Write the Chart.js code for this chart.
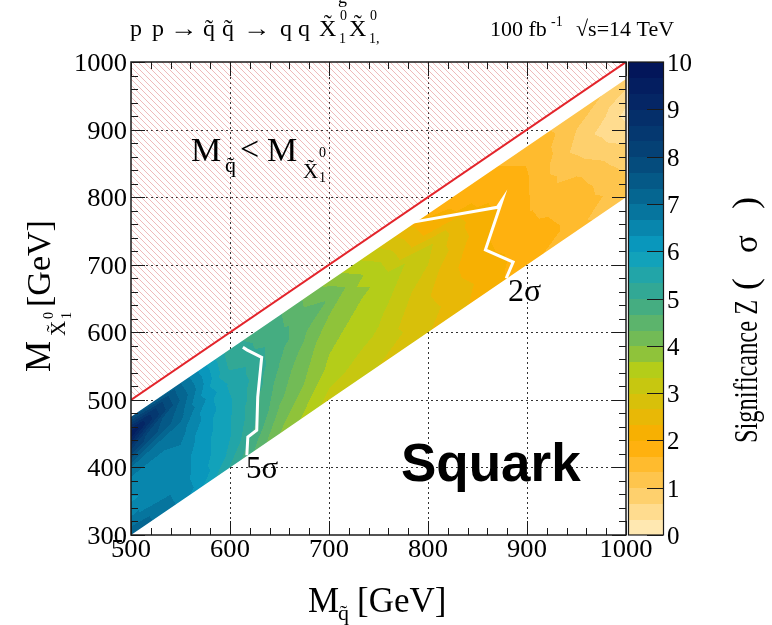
<!DOCTYPE html>
<html>
<head>
<meta charset="utf-8">
<script src="https://cdn.jsdelivr.net/npm/chart.js@4.4.0/dist/chart.umd.min.js"></script>
<style>
  html, body { margin: 0; padding: 0; background: #ffffff; }
  #wrap { width: 772px; height: 625px; }
</style>
</head>
<body>
<div id="wrap"><canvas id="c" width="772" height="625"></canvas></div>
<script>
// ---- grid of the scan: squark mass and mass splitting (M_squark - M_neutralino) ----
const squarkMass = [500, 550, 600, 650, 700, 750, 800, 850, 900, 950, 1000];
const massSplit  = [25, 50, 75, 100, 125, 150, 175, 200];

// significance Z (sigma) along squarkMass, one array per mass splitting
const zSplit25  = [7.6, 7.0, 5.1, 4.7, 3.9, 3.0, 1.95, 1.75, 1.55, 1.1, 0.9];
const zSplit50  = [9.7, 7.3, 5.25, 4.75, 4.3, 3.4, 2.2, 1.85, 1.65, 1.0, 0.5];
const zSplit75  = [8.3, 7.1, 5.6, 4.75, 4.0, 3.6, 3.1, 2.1, 1.7, 0.9, 0.25];
const zSplit100 = [7.0, 6.8, 5.7, 4.65, 3.8, 3.5, 3.0, 2.2, 1.7, 1.1, 0.4];
const zSplit125 = [6.4, 6.6, 5.7, 4.5, 3.7, 3.4, 2.8, 2.1, 1.7, 1.4, 0.7];
const zSplit150 = [6.3, 6.5, 5.7, 4.4, 3.6, 3.3, 2.7, 2.15, 1.75, 1.55, 0.9];
const zSplit175 = [6.7, 6.5, 5.6, 4.2, 3.4, 3.2, 2.8, 2.3, 1.8, 1.6, 1.1];
const zSplit200 = [7.3, 6.6, 5.3, 4.0, 3.2, 3.0, 2.7, 2.25, 1.8, 1.4, 1.2];
const zGrid = [zSplit25, zSplit50, zSplit75, zSplit100, zSplit125, zSplit150, zSplit175, zSplit200];

// iso-significance curves [M_squark, M_neutralino]
const contour2sigma = [[785, 763], [870, 785], [875, 796], [858, 722], [886, 704], [879, 680]];
const contour5sigma = [[613, 578], [617, 574], [632, 563], [628, 504], [627, 455], [618, 445], [617, 418]];

// kinematic limit M_squark = M_neutralino
const kinematicLimit = [[500, 500], [1000, 1000]];

// axis ticks
const xTicks = [500, 600, 700, 800, 900, 1000];
const yTicks = [300, 400, 500, 600, 700, 800, 900, 1000];
const zTicks = [0, 1, 2, 3, 4, 5, 6, 7, 8, 9, 10];
const zLevels = 30;

// ---- colour palette for the significance ----
const paletteStops = [
  [0, [255, 238, 194]], [1, [254, 202, 92]], [2, [255, 172, 0]], [3, [208, 196, 12]],
  [3.5, [180, 205, 25]], [4, [125, 190, 75]], [5, [58, 170, 140]], [6, [10, 160, 195]],
  [7, [5, 108, 150]], [8, [5, 70, 120]], [9, [5, 42, 103]], [10, [3, 18, 88]]
];
function paletteAt(v) {
  for (let i = 1; i < paletteStops.length; i++) {
    const [v1, c1] = paletteStops[i];
    const [v0, c0] = paletteStops[i - 1];
    if (v <= v1) {
      const t = (v - v0) / (v1 - v0);
      return c0.map((c, k) => Math.round(c + t * (c1[k] - c)));
    }
  }
  return paletteStops[paletteStops.length - 1][1];
}
const zMax = zTicks[zTicks.length - 1];
const levelColors = Array.from({ length: zLevels }, (_, k) => paletteAt((k + 0.5) * zMax / zLevels));

// linear interpolation on triangles of the (squark mass, splitting) grid
function significanceAt(mq, d) {
  const nx = squarkMass.length, ny = massSplit.length;
  const dx = squarkMass[1] - squarkMass[0], dy = massSplit[1] - massSplit[0];
  let fi = (mq - squarkMass[0]) / dx, fj = (d - massSplit[0]) / dy;
  fi = Math.max(0, Math.min(nx - 1 - 1e-9, fi));
  fj = Math.max(0, Math.min(ny - 1 - 1e-9, fj));
  const i = Math.floor(fi), j = Math.floor(fj);
  const u = fi - i, v = fj - j;
  const z00 = zGrid[j][i], z10 = zGrid[j][i + 1], z01 = zGrid[j + 1][i], z11 = zGrid[j + 1][i + 1];
  if (u + v <= 1) return z00 + u * (z10 - z00) + v * (z01 - z00);
  return z11 + (1 - u) * (z01 - z11) + (1 - v) * (z10 - z11);
}

const SERIF = '"Liberation Serif", "DejaVu Serif", serif';
const SANS = '"Liberation Sans", Arial, sans-serif';

function txt(ctx, s, x, y, size, opt = {}) {
  ctx.save();
  ctx.font = `${opt.weight || 'normal'} ${size}px ${opt.family || SERIF}`;
  ctx.fillStyle = opt.color || '#000';
  ctx.textAlign = opt.align || 'left';
  ctx.textBaseline = opt.baseline || 'alphabetic';
  ctx.translate(x, y);
  if (opt.rot) ctx.rotate(opt.rot);
  ctx.scale(opt.sx || 1, 1);
  ctx.fillText(s, 0, 0);
  const w = ctx.measureText(s).width * (opt.sx || 1);
  ctx.restore();
  return w;
}
// letter with a tilde accent on top
function tilded(ctx, ch, x, y, size, opt = {}) {
  const w = txt(ctx, ch, x, y, size, opt);
  const lift = opt.cap ? 0.2 * size : 0;
  txt(ctx, '\u02DC', x + w / 2, y - lift, size, Object.assign({}, opt, { align: 'center' }));
  return w;
}

const toXY = arr => arr.map(([a, b]) => ({ x: a, y: b }));

// filled contours, grid and hatched region, drawn under the curves
const contourFill = {
  id: 'contourFill',
  beforeDatasetsDraw(chart) {
    const { ctx, chartArea: a, scales: { x, y } } = chart;

    // dotted grid
    ctx.save();
    ctx.strokeStyle = '#333';
    ctx.lineWidth = 1;
    ctx.setLineDash([2, 3]);
    ctx.beginPath();
    xTicks.slice(1, -1).forEach(v => {
      const px = Math.round(x.getPixelForValue(v)) + 0.5;
      ctx.moveTo(px, a.top); ctx.lineTo(px, a.bottom);
    });
    yTicks.slice(1, -1).forEach(v => {
      const py = Math.round(y.getPixelForValue(v)) + 0.5;
      ctx.moveTo(a.left, py); ctx.lineTo(a.right, py);
    });
    ctx.stroke();
    ctx.restore();

    // forbidden region M_squark < M_neutralino
    ctx.save();
    ctx.beginPath();
    ctx.moveTo(x.getPixelForValue(500), y.getPixelForValue(500));
    ctx.lineTo(x.getPixelForValue(500), y.getPixelForValue(1000));
    ctx.lineTo(x.getPixelForValue(1000), y.getPixelForValue(1000));
    ctx.closePath();
    ctx.clip();
    ctx.strokeStyle = 'rgba(222, 120, 120, 0.5)';
    ctx.lineWidth = 1;
    ctx.beginPath();
    const H = a.bottom - a.top;
    for (let c = -H; c < (a.right - a.left) + 10; c += 6) {
      ctx.moveTo(a.left + c, a.top);
      ctx.lineTo(a.left + c + H, a.bottom);
    }
    ctx.stroke();
    ctx.restore();

    // significance map
    const w = Math.round(a.right - a.left), h = Math.round(a.bottom - a.top);
    const off = document.createElement('canvas');
    off.width = w; off.height = h;
    const octx = off.getContext('2d');
    const img = octx.createImageData(w, h);
    const dMin = massSplit[0], dMax = massSplit[massSplit.length - 1];
    for (let j = 0; j < h; j++) {
      const m = y.getValueForPixel(a.top + j + 0.5);
      for (let i = 0; i < w; i++) {
        const mq = x.getValueForPixel(a.left + i + 0.5);
        const d = mq - m;
        if (d < dMin - 3 || d > dMax + 3) continue;
        const z = significanceAt(mq, d);
        const k = Math.max(0, Math.min(zLevels - 1, Math.floor(z * zLevels / zMax)));
        const c = levelColors[k];
        const p = (j * w + i) * 4;
        img.data[p] = c[0]; img.data[p + 1] = c[1]; img.data[p + 2] = c[2]; img.data[p + 3] = 255;
      }
    }
    octx.putImageData(img, 0, 0);
    ctx.save();
    ctx.beginPath();
    squarkMass.forEach((mq, n) => {
      const px = x.getPixelForValue(mq), py = y.getPixelForValue(mq - dMin);
      n ? ctx.lineTo(px, py) : ctx.moveTo(px, py);
    });
    squarkMass.slice().reverse().forEach(mq => {
      ctx.lineTo(x.getPixelForValue(mq), y.getPixelForValue(mq - dMax));
    });
    ctx.closePath();
    ctx.clip();
    ctx.drawImage(off, a.left, a.top);
    ctx.restore();
  },
  afterDraw(chart) {
    const { ctx, chartArea: a, scales: { x, y, z } } = chart;

    // frame and inward ticks
    ctx.save();
    ctx.strokeStyle = '#1a1a1a';
    ctx.lineWidth = 1.5;
    ctx.strokeRect(a.left, a.top, a.right - a.left, a.bottom - a.top);
    ctx.lineWidth = 1;
    ctx.beginPath();
    for (let v = 500; v <= 1000; v += 20) {
      const px = Math.round(x.getPixelForValue(v)) + 0.5;
      const L = v % 100 === 0 ? 14 : 7;
      ctx.moveTo(px, a.bottom); ctx.lineTo(px, a.bottom - L);
      ctx.moveTo(px, a.top); ctx.lineTo(px, a.top + L);
    }
    for (let v = 300; v <= 1000; v += 20) {
      const py = Math.round(y.getPixelForValue(v)) + 0.5;
      const L = v % 100 === 0 ? 14 : 7;
      ctx.moveTo(a.left, py); ctx.lineTo(a.left + L, py);
      ctx.moveTo(a.right, py); ctx.lineTo(a.right - L, py);
    }
    ctx.stroke();
    ctx.restore();

    // tick labels
    xTicks.forEach(v => txt(ctx, String(v), x.getPixelForValue(v), 557, 26, { align: 'center', sx: 1.02 }));
    yTicks.forEach(v => txt(ctx, String(v), 127, y.getPixelForValue(v) + 9, 26, { align: 'right', sx: 1.02 }));

    // colour scale
    const cbL = 628, cbW = 35;
    for (let k = 0; k < zLevels; k++) {
      const y0 = z.getPixelForValue(k * zMax / zLevels), y1 = z.getPixelForValue((k + 1) * zMax / zLevels);
      const c = levelColors[k];
      ctx.fillStyle = `rgb(${c[0]},${c[1]},${c[2]})`;
      ctx.fillRect(cbL, Math.floor(y1), cbW, Math.ceil(y0) - Math.floor(y1));
    }
    ctx.save();
    ctx.strokeStyle = '#1a1a1a';
    ctx.lineWidth = 1.2;
    ctx.strokeRect(cbL + 0.5, z.getPixelForValue(zMax), cbW, z.getPixelForValue(0) - z.getPixelForValue(zMax));
    ctx.beginPath();
    zTicks.forEach(v => {
      const py = Math.round(z.getPixelForValue(v)) + 0.5;
      ctx.moveTo(cbL + cbW, py); ctx.lineTo(cbL + cbW - 16, py);
    });
    ctx.stroke();
    ctx.restore();
    zTicks.forEach(v => txt(ctx, String(v), 667, z.getPixelForValue(v) + 9, 25));

    // axis titles
    txt(ctx, 'M', 308, 612, 35);
    tilded(ctx, 'q', 338, 620, 22);
    txt(ctx, '[GeV]', 357, 612, 35);

    ctx.save();
    ctx.translate(50, 372);
    ctx.rotate(-Math.PI / 2);
    txt(ctx, 'M', 0, 0, 35);
    tilded(ctx, 'X', 36, 15, 21, { cap: true });
    txt(ctx, '0', 53, 3, 14);
    txt(ctx, '1', 53, 21, 14);
    txt(ctx, '[GeV]', 65, 0, 34);
    ctx.restore();

    ctx.save();
    ctx.translate(757, 443);
    ctx.rotate(-Math.PI / 2);
    txt(ctx, 'Significance Z', 0, 0, 33, { sx: 0.74 });
    txt(ctx, '(', 153, 0, 36);
    txt(ctx, '\u03C3', 190, 0, 33);
    txt(ctx, ')', 234, 0, 36);
    ctx.restore();

    // process and luminosity
    const s = 24, b = 36;
    txt(ctx, 'p', 130, b, s); txt(ctx, 'p', 152, b, s);
    txt(ctx, '\u2192', 170, b, s, { sx: 1.15 });
    tilded(ctx, 'q', 203, b, s); tilded(ctx, 'q', 222, b, s);
    txt(ctx, '\u2192', 243, b, s, { sx: 1.15 });
    txt(ctx, 'q', 280, b, s); txt(ctx, 'q', 298, b, s);
    tilded(ctx, 'X', 319, b, s, { cap: true });
    txt(ctx, '0', 340, b - 16, 14); txt(ctx, '1', 339, b + 7, 14);
    tilded(ctx, 'X', 349, b, s, { cap: true });
    txt(ctx, '0', 370, b - 16, 14); txt(ctx, '1,', 369, b + 7, 14);
    txt(ctx, 'g', 338, 3, 18);
    txt(ctx, '100 fb', 490, 36, 22);
    txt(ctx, '-1', 551, 26, 14);
    txt(ctx, '\u221As=14 TeV', 576, 36, 22);

    // region and curve labels
    txt(ctx, 'M', 191, 161, 34);
    tilded(ctx, 'q', 225, 172, 22);
    txt(ctx, '<', 240, 160, 34);
    txt(ctx, 'M', 267, 161, 34);
    tilded(ctx, 'X', 303, 178, 21, { cap: true });
    txt(ctx, '0', 319, 157, 14);
    txt(ctx, '1', 319, 182, 14);

    txt(ctx, '2\u03C3', 508, 301, 32);
    txt(ctx, '5\u03C3', 246, 478, 31);
    txt(ctx, 'Squark', 401, 481, 53, { family: SANS, weight: 'bold' });
  }
};

new Chart(document.getElementById('c'), {
  type: 'scatter',
  data: {
    datasets: [
      { label: 'M_squark = M_neutralino', data: toXY(kinematicLimit), showLine: true,
        borderColor: '#e3242b', borderWidth: 2, pointRadius: 0 },
      { label: '2 sigma', data: toXY(contour2sigma), showLine: true,
        borderColor: '#ffffff', borderWidth: 3, pointRadius: 0, borderJoinStyle: 'miter' },
      { label: '5 sigma', data: toXY(contour5sigma), showLine: true,
        borderColor: '#ffffff', borderWidth: 3, pointRadius: 0, borderJoinStyle: 'miter' }
    ]
  },
  options: {
    responsive: false,
    animation: false,
    devicePixelRatio: 1,
    layout: { padding: { left: 0, top: 62, right: 146, bottom: 0 } },
    plugins: { legend: { display: false }, tooltip: { enabled: false } },
    scales: {
      x: { type: 'linear', min: 500, max: 1000, grid: { display: false }, border: { display: false },
           ticks: { display: false, stepSize: 100 }, afterFit: s => { s.height = 90; } },
      y: { type: 'linear', min: 300, max: 1000, grid: { display: false }, border: { display: false },
           ticks: { display: false, stepSize: 100 }, afterFit: s => { s.width = 131; } },
      z: { type: 'linear', display: false, position: 'right', min: 0, max: 10 }
    }
  },
  plugins: [contourFill]
});
</script>
</body>
</html>
